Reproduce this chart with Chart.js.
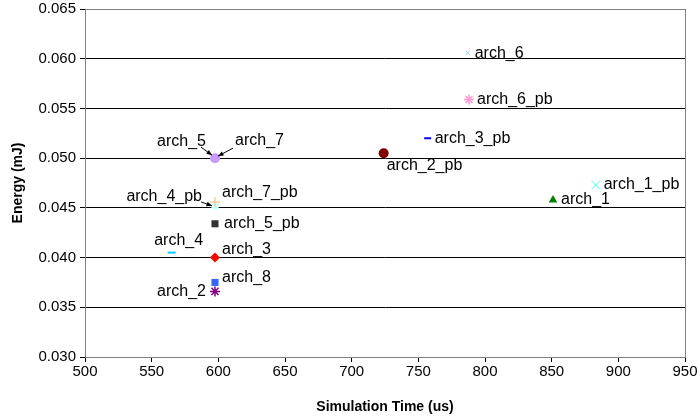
<!DOCTYPE html>
<html>
<head>
<meta charset="utf-8">
<script src="https://cdn.jsdelivr.net/npm/chart.js@4.4.1/dist/chart.umd.min.js"></script>
<style>
  html, body { margin: 0; padding: 0; background: #fff; }
  #wrap { width: 700px; height: 420px; }
</style>
</head>
<body>
<div id="wrap"><canvas id="c"></canvas></div>
<script>
// data (first dataset is drawn on top)
const names  = ['arch_5', 'arch_7', 'arch_7_pb', 'arch_4_pb', 'arch_5_pb', 'arch_4', 'arch_3', 'arch_8', 'arch_2',
                'arch_2_pb', 'arch_3_pb', 'arch_6', 'arch_6_pb', 'arch_1', 'arch_1_pb'];
const simTime = [597.5, 597.5, 597.5, 597.5, 597.5, 565, 597.5, 597.5, 597.5, 724, 757, 787, 788, 851, 883];
const energy  = [0.0500, 0.0500, 0.0456, 0.0452, 0.0434, 0.0405, 0.0400, 0.0375, 0.0366,
                 0.0505, 0.0520, 0.0606, 0.0559, 0.0458, 0.0473];
const xTicks = { min: 500, max: 950, step: 50 };
const yTicks = { min: 0.030, max: 0.065, step: 0.005 };

// marker look per series
const looks = {
    arch_7:    { s: 'triangle', c: '#ccffcc', r: 5 },
    arch_5:    { s: 'circle',   c: '#cc99ff', r: 5 },
    arch_7_pb: { s: 'cross',    c: '#ffcc99', r: 5, w: 1.5 },
    arch_4_pb: { s: 'circle',   c: '#ccffff', r: 4 },
    arch_5_pb: { s: 'rect',     c: '#333333', r: 5 },
    arch_4:    { s: 'line',     c: '#00ccff', r: 4, w: 2 },
    arch_3:    { s: 'rectRot',  c: '#ff0000', r: 5 },
    arch_8:    { s: 'rect',     c: '#3366ff', r: 5 },
    arch_2:    { s: 'star',     c: '#800080', r: 5, w: 1.5 },
    arch_2_pb: { s: 'circle',   c: '#800000', r: 5 },
    arch_3_pb: { s: 'line',     c: '#0000ff', r: 3.5, w: 2 },
    arch_6:    { s: 'crossRot', c: '#99ccff', r: 3, w: 1 },
    arch_6_pb: { s: 'star',     c: '#ff99cc', r: 5, w: 1.5 },
    arch_1:    { s: 'triangle', c: '#008000', r: 5 },
    arch_1_pb: { s: 'crossRot', c: '#33ffff', r: 6, w: 1 }
};

// label offsets from the point (px), alignment, optional arrow
const tags = {
    arch_5:    { dx: -9,  dy: -17, a: 'right', arrow: [-14, -11, -3, -3] },
    arch_7:    { dx: 20,  dy: -18, a: 'left',  arrow: [18, -10, 3, -2] },
    arch_7_pb: { dx: 7,   dy: -9,  a: 'left' },
    arch_4_pb: { dx: -13, dy: -9,  a: 'right', arrow: [-14, -4, -3, 0] },
    arch_5_pb: { dx: 9,   dy: 0,   a: 'left' },
    arch_4:    { dx: 7,   dy: -12, a: 'center' },
    arch_3:    { dx: 7,   dy: -8,  a: 'left' },
    arch_8:    { dx: 7,   dy: -5,  a: 'left' },
    arch_2:    { dx: -9,  dy: 0,   a: 'right' },
    arch_2_pb: { dx: 3,   dy: 12,  a: 'left' },
    arch_3_pb: { dx: 7,   dy: 0,   a: 'left' },
    arch_6:    { dx: 7,   dy: 1,   a: 'left' },
    arch_6_pb: { dx: 8,   dy: 0,   a: 'left' },
    arch_1:    { dx: 8,   dy: 0,   a: 'left' },
    arch_1_pb: { dx: 8,   dy: 0,   a: 'left' }
};

const FONT = '"Liberation Sans", Arial, sans-serif';

const datasets = names.map((n, i) => {
    const l = looks[n];
    const filled = ['circle', 'rect', 'rectRot', 'triangle'].includes(l.s);
    return {
        label: n,
        data: [{ x: simTime[i], y: energy[i] }],
        pointStyle: l.s,
        pointRadius: l.r,
        pointHoverRadius: l.r,
        backgroundColor: l.c,
        borderColor: l.c,
        borderWidth: filled ? 0 : (l.w || 1)
    };
});

const pointLabels = {
    id: 'pointLabels',
    afterDatasetsDraw(chart) {
        const ctx = chart.ctx;
        ctx.save();
        ctx.font = '16px ' + FONT;
        ctx.fillStyle = '#000';
        ctx.textBaseline = 'middle';
        chart.data.datasets.forEach((ds, i) => {
            const t = tags[ds.label];
            const el = chart.getDatasetMeta(i).data[0];
            if (!t || !el) return;
            ctx.textAlign = t.a;
            ctx.fillText(ds.label, el.x + t.dx, el.y + t.dy);
            if (t.arrow) {
                const [x0, y0, x1, y1] = t.arrow;
                const sx = el.x + x0, sy = el.y + y0, ex = el.x + x1, ey = el.y + y1;
                ctx.strokeStyle = '#000';
                ctx.lineWidth = 1;
                ctx.beginPath(); ctx.moveTo(sx, sy); ctx.lineTo(ex, ey); ctx.stroke();
                const ang = Math.atan2(ey - sy, ex - sx);
                ctx.beginPath();
                ctx.moveTo(ex, ey);
                ctx.lineTo(ex - 6 * Math.cos(ang - 0.4), ey - 6 * Math.sin(ang - 0.4));
                ctx.lineTo(ex - 6 * Math.cos(ang + 0.4), ey - 6 * Math.sin(ang + 0.4));
                ctx.closePath(); ctx.fill();
            }
        });
        ctx.restore();
    }
};

// gray frame round the plot area
const frame = {
    id: 'frame',
    beforeDatasetsDraw(chart) {
        const { ctx, chartArea: a } = chart;
        ctx.save();
        ctx.strokeStyle = '#808080';
        ctx.lineWidth = 1;
        ctx.strokeRect(a.left + 0.5, a.top + 0.5, a.right - a.left, a.bottom - a.top);
        ctx.restore();
    }
};

new Chart(document.getElementById('c'), {
    type: 'scatter',
    data: { datasets },
    plugins: [frame, pointLabels],
    options: {
        responsive: true,
        maintainAspectRatio: false,
        animation: false,
        layout: { padding: { top: 9, right: 15, left: 0, bottom: 0 } },
        plugins: { legend: { display: false }, tooltip: { enabled: false } },
        scales: {
            x: {
                min: xTicks.min, max: xTicks.max,
                afterFit: s => { s.height = 63; },
                ticks: { stepSize: xTicks.step, color: '#000', font: { size: 15, family: FONT }, padding: 1 },
                grid: { display: true, drawOnChartArea: false, drawTicks: true, tickLength: 5, color: '#000' },
                border: { color: '#000' },
                title: { display: true, text: 'Simulation Time (us)', color: '#000',
                         font: { size: 14, weight: 'bold', family: FONT }, padding: { top: 7 } }
            },
            y: {
                min: yTicks.min, max: yTicks.max,
                afterFit: s => { s.width = 85; s.paddingTop = 0; },
                ticks: { stepSize: yTicks.step, color: '#000', font: { size: 15, family: FONT }, padding: 4,
                         callback: v => v.toFixed(3) },
                grid: { color: '#000', lineWidth: 1, drawTicks: true, tickLength: 5 },
                border: { color: '#000' },
                title: { display: true, text: 'Energy (mJ)', color: '#000',
                         font: { size: 14, weight: 'bold', family: FONT }, padding: { top: 10, bottom: 0 } }
            }
        }
    }
});
</script>
</body>
</html>
